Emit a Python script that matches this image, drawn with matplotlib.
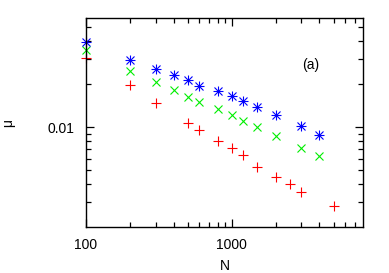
import matplotlib
matplotlib.use('Agg')
import matplotlib.pyplot as plt
from matplotlib.ticker import FixedLocator, NullFormatter, FixedFormatter

plt.rcParams['font.family'] = ['Liberation Sans', 'DejaVu Sans']
plt.rcParams['font.size'] = 10

# series
n_blue = [100, 200, 300, 400, 500, 600, 800, 1000, 1200, 1500, 2000, 3000, 4000]
mu_blue = [0.0393, 0.0296, 0.0255, 0.0233, 0.0214, 0.0195, 0.0180, 0.0165,
           0.0152, 0.0139, 0.0121, 0.0102, 0.0088]

n_green = [100, 200, 300, 400, 500, 600, 800, 1000, 1200, 1500, 2000, 3000, 4000]
mu_green = [0.0346, 0.0247, 0.0207, 0.0182, 0.0162, 0.0151, 0.0134, 0.0121,
            0.0111, 0.0100, 0.0087, 0.0071, 0.0063]

n_red = [100, 200, 300, 500, 600, 800, 1000, 1200, 1500, 2000, 2500, 3000, 5000]
mu_red = [0.0306, 0.0197, 0.0147, 0.0107, 0.0096, 0.0080, 0.0071, 0.0064,
          0.0053, 0.0045, 0.0040, 0.0035, 0.0028]

x_major = [100, 1000]
x_major_labels = ['100', '1000']
y_major = [0.01]
y_major_labels = ['0.01']

fig = plt.figure(figsize=(3.89, 2.73), dpi=100)
ax = fig.add_axes([0.221, 0.1685, 0.712, 0.7655])

ax.plot(n_red, mu_red, '+', color='#ff0000', ms=7, mew=0.8, ls='none', clip_on=False)
ax.plot(n_green, mu_green, 'x', color='#00ee00', ms=6, mew=0.8, ls='none', clip_on=False)
ax.plot(n_blue, mu_blue, '+', color='#0000ff', ms=7, mew=0.8, ls='none', clip_on=False)
ax.plot(n_blue, mu_blue, 'x', color='#0000ff', ms=6, mew=0.8, ls='none', clip_on=False)

ax.set_xscale('log')
ax.set_yscale('log')
ax.set_xlim(100, 7950)
ax.set_ylim(0.002, 0.058)

x_minor = [k * 100 for k in range(2, 10)] + [k * 1000 for k in range(2, 8)]
y_minor = [k * 0.001 for k in range(3, 10)] + [k * 0.01 for k in range(2, 6)]
ax.xaxis.set_major_locator(FixedLocator(x_major))
ax.xaxis.set_major_formatter(FixedFormatter(x_major_labels))
ax.xaxis.set_minor_locator(FixedLocator(x_minor))
ax.xaxis.set_minor_formatter(NullFormatter())
ax.yaxis.set_major_locator(FixedLocator(y_major))
ax.yaxis.set_major_formatter(FixedFormatter(y_major_labels))
ax.yaxis.set_minor_locator(FixedLocator(y_minor))
ax.yaxis.set_minor_formatter(NullFormatter())

ax.tick_params(which='both', direction='in', top=True, right=True, width=0.9)
ax.tick_params(which='major', length=6, pad=8)
ax.tick_params(which='minor', length=3.5)
for s in ax.spines.values():
    s.set_linewidth(1.0)

ax.set_xlabel('N', labelpad=5)
ax.set_ylabel('μ', labelpad=24)
ax.text(0.81, 0.775, '(a)', transform=ax.transAxes, ha='center', va='center')

fig.savefig('out.png', dpi=100)
